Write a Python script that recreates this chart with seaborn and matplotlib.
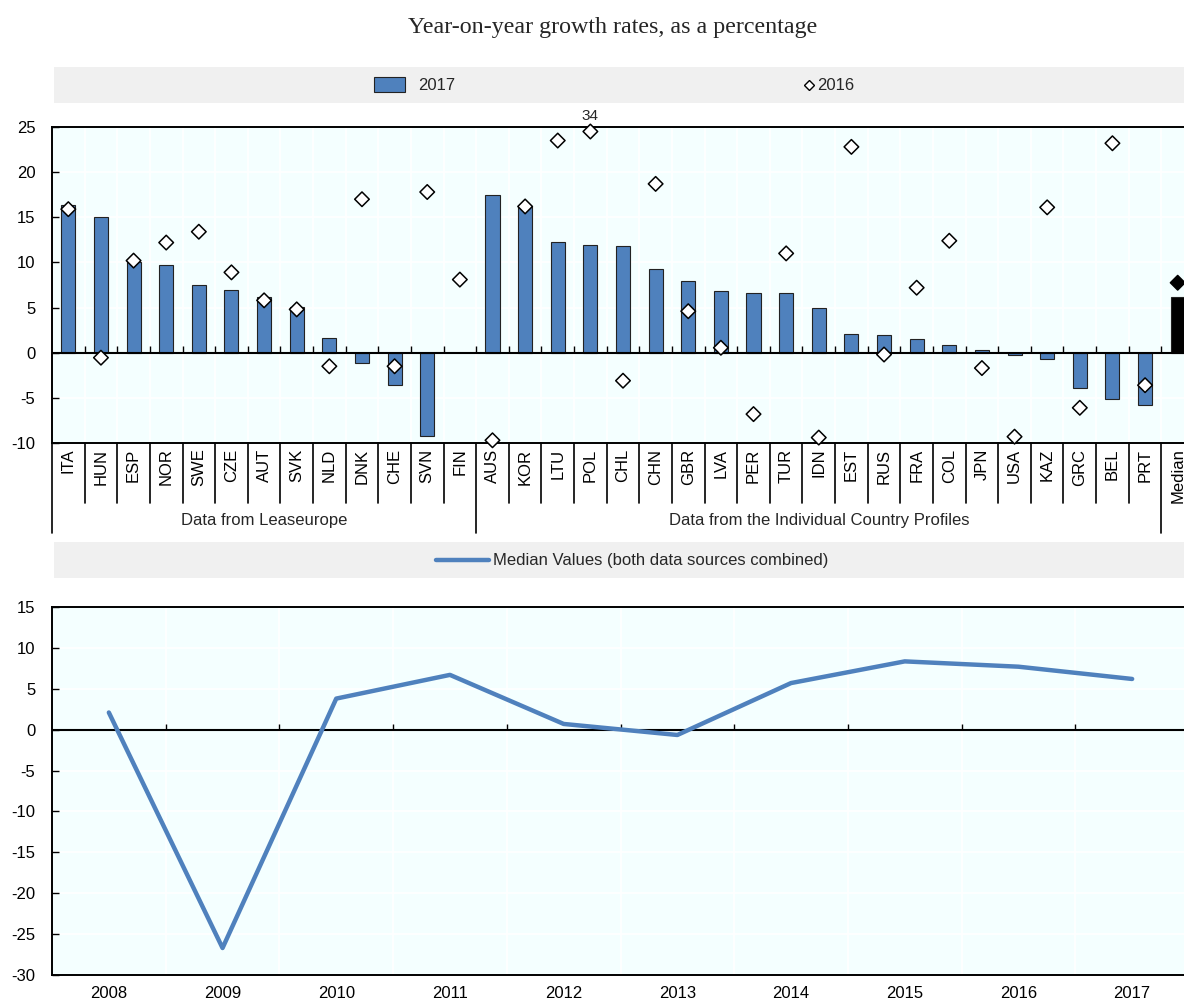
import numpy as np
import pandas as pd
import matplotlib
matplotlib.use("Agg")
import matplotlib.pyplot as plt
import matplotlib.transforms as mtrans
from matplotlib.lines import Line2D
from matplotlib.patches import Rectangle
import seaborn as sns

# ---------------- data ----------------
leaseurope = ["ITA", "HUN", "ESP", "NOR", "SWE", "CZE", "AUT", "SVK", "NLD",
              "DNK", "CHE", "SVN", "FIN"]
profiles = ["AUS", "KOR", "LTU", "POL", "CHL", "CHN", "GBR", "LVA", "PER",
            "TUR", "IDN", "EST", "RUS", "FRA", "COL", "JPN", "USA", "KAZ",
            "GRC", "BEL", "PRT"]
median_cat = ["Median"]

g2017_leaseurope = [16.4, 15.0, 10.1, 9.7, 7.5, 6.9, 6.2, 5.1, 1.6,
                    -1.1, -3.6, -9.2, np.nan]
g2016_leaseurope = [15.9, -0.55, 10.2, 12.2, 13.4, 8.9, 5.8, 4.8, -1.5,
                    17.0, -1.5, 17.8, 8.1]
g2017_profiles = [17.5, 16.2, 12.3, 11.9, 11.8, 9.3, 7.9, 6.8, 6.6,
                  6.6, 4.9, 2.1, 2.0, 1.55, 0.8, 0.33, -0.3, -0.7,
                  -3.9, -5.1, -5.8]
g2016_profiles = [-9.7, 16.2, 23.5, 34.0, -3.1, 18.7, 4.6, 0.55, -6.8,
                  11.0, -9.4, 22.8, -0.2, 7.2, 12.4, -1.7, -9.3, 16.1,
                  -6.1, 23.2, -3.6]
g2017_median = [6.2]
g2016_median = [7.75]

years = [2008, 2009, 2010, 2011, 2012, 2013, 2014, 2015, 2016, 2017]
median_values = [2.1, -26.7, 3.8, 6.7, 0.7, -0.65, 5.7, 8.35, 7.7, 6.2]

title_text = "Year-on-year growth rates, as a percentage"
group_labels = ["Data from Leaseurope", "Data from the Individual Country Profiles"]

# ---------------- style ----------------
BLUE = "#4F81BD"
BG = "#F4FFFF"
BAND = "#F0F0F0"

sns.set_theme(style="white")
plt.rcParams["font.family"] = ["Liberation Sans Narrow", "Liberation Sans", "DejaVu Sans"]
plt.rcParams["font.size"] = 12
plt.rcParams["axes.unicode_minus"] = False

W, H = 1184, 1000
fig = plt.figure(figsize=(W / 100, H / 100), dpi=100)


def fx(px):
    return px / W


def fy(py):
    return 1 - py / H


cats = leaseurope + profiles + median_cat
n = len(cats)
df = pd.DataFrame({
    "country": cats,
    "g2017": g2017_leaseurope + g2017_profiles + g2017_median,
    "g2016": g2016_leaseurope + g2016_profiles + g2016_median,
    "grp": ["c"] * (len(leaseurope) + len(profiles)) + ["m"],
})
df["pos"] = np.arange(n)

TOP_YMAX = 25
# ---------------- top axes ----------------
ax = fig.add_axes([fx(52), fy(443), (1194 - 52) / W, (443 - 127) / H])
ax.set_facecolor(BG)
sns.barplot(data=df, x="country", y="g2017", hue="grp", order=cats,
            palette={"c": BLUE, "m": "black"}, saturation=1, width=0.43,
            dodge=False, legend=False, edgecolor="#222222", linewidth=0.8,
            ax=ax, zorder=3)
shown2016 = np.minimum(df["g2016"].to_numpy(), TOP_YMAX - 0.5)
sns.scatterplot(x=df["pos"], y=shown2016, hue=df["grp"],
                palette={"c": "white", "m": "black"}, marker="D", s=55,
                edgecolor="black", linewidth=1.1, legend=False, ax=ax,
                zorder=5, clip_on=False)
# overflow label
for p, v in zip(df["pos"], df["g2016"]):
    if v > TOP_YMAX:
        ax.text(p, TOP_YMAX + 0.4, f"{v:.0f}", ha="center", va="bottom", fontsize=11)

ax.set_xlim(-0.5, n - 0.5)
ax.set_ylim(-10, TOP_YMAX)
ax.set_yticks(np.arange(-10, 26, 5))
ax.set_xticks(np.arange(n))
ax.set_xticklabels(cats, rotation=90)
ax.set_xticks(np.arange(-0.5, n, 1), minor=True)
ax.set_xlabel("")
ax.set_ylabel("")
ax.tick_params(axis="x", which="both", length=0, pad=4, labelsize=12, colors="black")
ax.tick_params(axis="y", direction="in", length=5, width=1, pad=12, labelsize=12,
               left=True, colors="black")
ax.set_axisbelow(True)
ax.yaxis.grid(True, color="white", lw=1.2)
ax.xaxis.grid(True, which="minor", color="white", lw=1.2)
ax.xaxis.grid(False, which="major")
for s in ["top", "left", "bottom"]:
    ax.spines[s].set_visible(True)
    ax.spines[s].set_color("black")
    ax.spines[s].set_linewidth(1.4)
ax.spines["right"].set_visible(False)
ax.axhline(0, color="black", lw=1.5, zorder=4)
bounds = np.arange(0.5, n - 1, 1)
ax.vlines(bounds, 0, 0.7, color="black", lw=1, zorder=4)

trans = mtrans.blended_transform_factory(ax.transData, ax.transAxes)
group_edges = [-0.5, len(leaseurope) - 0.5, len(leaseurope) + len(profiles) - 0.5]
for b in np.arange(-0.5, n - 0.5, 1):
    depth = -0.285 if b in group_edges else -0.19
    ax.plot([b, b], [0, depth], transform=trans, clip_on=False, color="black", lw=1.2)
ax.text((group_edges[0] + group_edges[1]) / 2, -0.244, group_labels[0],
        transform=trans, ha="center", va="center", fontsize=12)
ax.text((group_edges[1] + group_edges[2]) / 2, -0.244, group_labels[1],
        transform=trans, ha="center", va="center", fontsize=12)

# ---------------- bottom axes ----------------
ax2 = fig.add_axes([fx(52), fy(975), (1189 - 52) / W, (975 - 607) / H])
ax2.set_facecolor(BG)
sns.lineplot(x=years, y=median_values, color=BLUE, lw=3.2, ax=ax2, zorder=3)
ax2.set_xlim(years[0] - 0.5, years[-1] + 0.5)
ax2.set_ylim(-30, 15)
ax2.set_yticks(np.arange(-30, 16, 5))
ax2.set_xticks(years)
ax2.set_xticks(np.arange(years[0] - 0.5, years[-1] + 1, 1), minor=True)
ax2.tick_params(axis="x", which="both", length=0, pad=8, labelsize=12, colors="black")
ax2.tick_params(axis="y", direction="in", length=5, width=1, pad=12, labelsize=12,
                left=True, colors="black")
ax2.set_axisbelow(True)
ax2.yaxis.grid(True, color="white", lw=1.2)
ax2.xaxis.grid(True, which="minor", color="white", lw=1.2)
ax2.xaxis.grid(False, which="major")
for s in ["top", "left", "bottom"]:
    ax2.spines[s].set_visible(True)
    ax2.spines[s].set_color("black")
    ax2.spines[s].set_linewidth(1.4)
ax2.spines["right"].set_visible(False)
ax2.axhline(0, color="black", lw=1.5, zorder=2)
ax2.vlines(np.arange(years[0] + 0.5, years[-1], 1), 0, 0.75, color="black", lw=1, zorder=2)

# ---------------- title & legend bands ----------------
fig.text(fx(613), fy(27), title_text, ha="center", va="center",
         family=["Liberation Serif", "DejaVu Serif"], fontsize=17.3)

fig.add_artist(Rectangle((fx(54), fy(103)), 1 - fx(54), (103 - 67) / H,
                         transform=fig.transFigure, facecolor=BAND, edgecolor="none"))
fig.add_artist(Rectangle((fx(374), fy(92)), 31 / W, 15 / H, transform=fig.transFigure,
                         facecolor=BLUE, edgecolor="#222222", lw=0.8))
fig.text(fx(418), fy(85), "2017", ha="left", va="center", fontsize=12)
fig.add_artist(Line2D([fx(809)], [fy(85)], marker="D", ms=5.5, mfc="white",
                      mec="black", mew=1, transform=fig.transFigure))
fig.text(fx(817), fy(85), "2016", ha="left", va="center", fontsize=12)

fig.add_artist(Rectangle((fx(54), fy(578)), 1 - fx(54), (578 - 542) / H,
                         transform=fig.transFigure, facecolor=BAND, edgecolor="none"))
fig.add_artist(Line2D([fx(436), fx(489)], [fy(560), fy(560)], color=BLUE, lw=3.2,
                      transform=fig.transFigure))
fig.text(fx(493), fy(560), "Median Values (both data sources combined)",
         ha="left", va="center", fontsize=12)

fig.savefig("out.png", dpi=100)
